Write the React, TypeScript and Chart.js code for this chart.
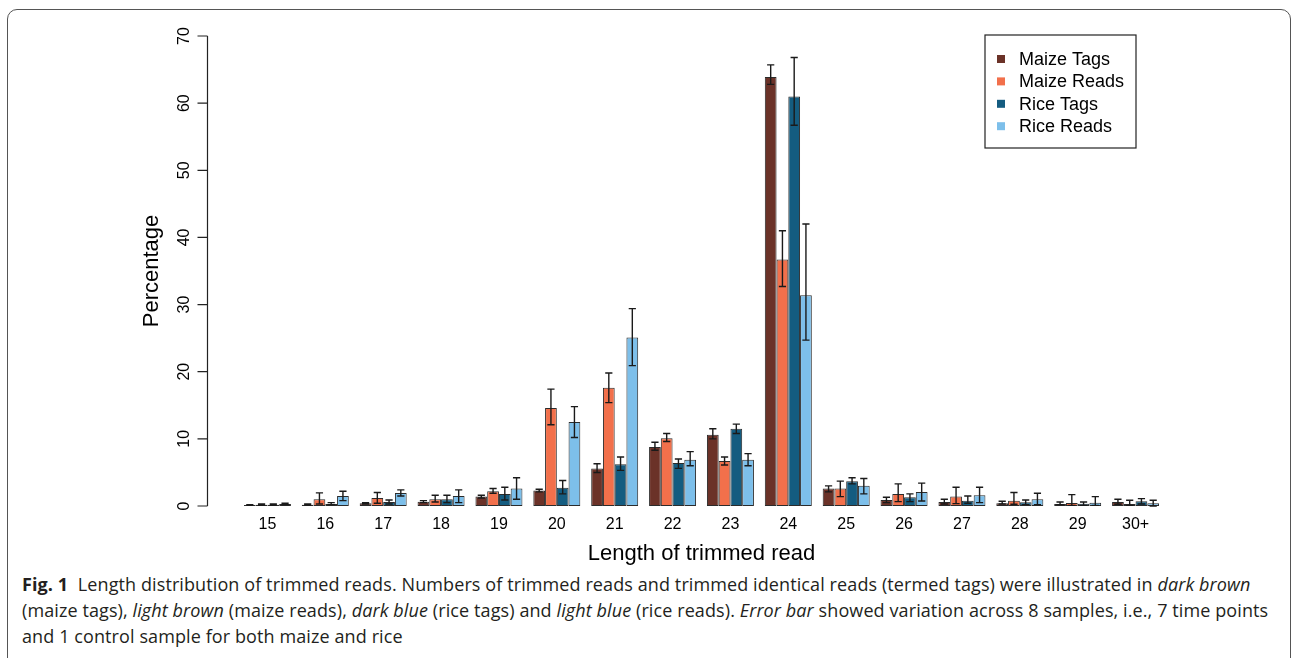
import React, { useEffect, useRef } from "react";
import { Chart, registerables } from "chart.js";

Chart.register(...registerables);

// ---------- data ----------
const lengths = ["15", "16", "17", "18", "19", "20", "21", "22", "23", "24", "25", "26", "27", "28", "29", "30+"];

const maizeTags = [0.15, 0.2, 0.4, 0.65, 1.4, 2.3, 5.6, 8.8, 10.6, 63.9, 2.6, 0.9, 0.6, 0.4, 0.3, 0.6];
const maizeTagsLow = [0.1, 0.15, 0.3, 0.5, 1.2, 2.1, 5.0, 8.3, 10.0, 62.8, 2.1, 0.5, 0.3, 0.3, 0.2, 0.25];
const maizeTagsHigh = [0.2, 0.3, 0.5, 0.8, 1.6, 2.5, 6.3, 9.5, 11.5, 65.7, 3.0, 1.3, 1.0, 0.7, 0.6, 1.0];

const maizeReads = [0.2, 1.0, 1.2, 1.0, 2.2, 14.6, 17.6, 10.1, 6.7, 36.7, 2.6, 1.8, 1.4, 0.8, 0.45, 0.3];
const maizeReadsLow = [0.1, 0.3, 0.4, 0.6, 1.9, 12.1, 15.4, 9.6, 6.1, 32.7, 1.4, 0.65, 0.35, 0.25, 0.1, 0.1];
const maizeReadsHigh = [0.3, 1.95, 2.0, 1.6, 2.6, 17.4, 19.8, 10.8, 7.3, 41.0, 3.7, 3.3, 2.8, 2.0, 1.7, 0.85];

const riceTags = [0.2, 0.3, 0.6, 1.0, 1.8, 2.7, 6.2, 6.4, 11.5, 61.0, 3.7, 1.3, 0.8, 0.55, 0.35, 0.7];
const riceTagsLow = [0.1, 0.2, 0.3, 0.5, 0.9, 1.8, 5.3, 5.6, 10.8, 56.7, 3.3, 0.65, 0.4, 0.2, 0.1, 0.3];
const riceTagsHigh = [0.3, 0.5, 0.9, 1.6, 2.8, 3.8, 7.3, 7.0, 12.2, 66.8, 4.2, 1.8, 1.5, 0.9, 0.6, 1.1];

const riceReads = [0.3, 1.5, 1.95, 1.5, 2.6, 12.5, 25.1, 6.9, 6.9, 31.4, 3.0, 2.1, 1.6, 1.0, 0.5, 0.4];
const riceReadsLow = [0.2, 0.8, 1.5, 0.5, 1.0, 10.2, 20.9, 6.0, 6.0, 24.7, 1.8, 0.75, 0.5, 0.2, 0.1, 0.0];
const riceReadsHigh = [0.4, 2.2, 2.4, 2.4, 4.2, 14.8, 29.4, 8.1, 7.8, 42.0, 4.1, 3.4, 2.8, 1.9, 1.4, 0.85];

const yTicks = [0, 10, 20, 30, 40, 50, 60, 70];

const seriesNames = ["Maize Tags", "Maize Reads", "Rice Tags", "Rice Reads"];
const seriesColors = ["#6b3228", "#f2704b", "#145c80", "#7dbfea"];

const FONT = "'Liberation Sans', Arial, Helvetica, sans-serif";

// ---------- plugins ----------
const errorBarPlugin = {
  id: "errorBars",
  afterDatasetsDraw(chart: any) {
    const ctx = chart.ctx;
    const y = chart.scales.y;
    ctx.save();
    ctx.strokeStyle = "#1a1a1a";
    ctx.lineWidth = 1.4;
    chart.data.datasets.forEach((ds: any, i: number) => {
      const meta = chart.getDatasetMeta(i);
      meta.data.forEach((bar: any, j: number) => {
        const x = bar.x;
        const yl = y.getPixelForValue(ds.errLow[j]);
        const yh = y.getPixelForValue(ds.errHigh[j]);
        const cap = 3.6;
        ctx.beginPath();
        ctx.moveTo(x, yl);
        ctx.lineTo(x, yh);
        ctx.moveTo(x - cap, yl);
        ctx.lineTo(x + cap, yl);
        ctx.moveTo(x - cap, yh);
        ctx.lineTo(x + cap, yh);
        ctx.stroke();
      });
    });
    ctx.restore();
  },
};

const axisPlugin = {
  id: "rAxis",
  afterDraw(chart: any) {
    const ctx = chart.ctx;
    const y = chart.scales.y;
    const area = chart.chartArea;
    const axisX = area.left - 31;
    ctx.save();
    ctx.strokeStyle = "#222";
    ctx.lineWidth = 1.2;
    ctx.beginPath();
    ctx.moveTo(axisX, y.getPixelForValue(yTicks[0]));
    ctx.lineTo(axisX, y.getPixelForValue(yTicks[yTicks.length - 1]));
    yTicks.forEach((t) => {
      const py = y.getPixelForValue(t);
      ctx.moveTo(axisX, py);
      ctx.lineTo(axisX - 10, py);
    });
    ctx.stroke();
    ctx.fillStyle = "#000";
    ctx.font = `16px ${FONT}`;
    ctx.textAlign = "center";
    ctx.textBaseline = "alphabetic";
    yTicks.forEach((t) => {
      const py = y.getPixelForValue(t);
      ctx.save();
      ctx.translate(axisX - 18.5, py);
      ctx.rotate(-Math.PI / 2);
      ctx.fillText(String(t), 0, 0);
      ctx.restore();
    });
    ctx.font = `22px ${FONT}`;
    ctx.save();
    ctx.translate(axisX - 50, (area.top + area.bottom) / 2);
    ctx.rotate(-Math.PI / 2);
    ctx.fillText("Percentage", 0, 0);
    ctx.restore();
    ctx.restore();
  },
};

const legendPlugin = {
  id: "boxLegend",
  afterDraw(chart: any) {
    const ctx = chart.ctx;
    const area = chart.chartArea;
    const bx = area.right - 179.5;
    const by = area.top - 1;
    const bw = 151;
    const bh = 113;
    ctx.save();
    ctx.strokeStyle = "#222";
    ctx.lineWidth = 1.2;
    ctx.strokeRect(bx, by, bw, bh);
    ctx.font = `18px ${FONT}`;
    ctx.textBaseline = "middle";
    ctx.textAlign = "left";
    chart.data.datasets.forEach((ds: any, i: number) => {
      const cy = by + 24 + i * 22.4;
      ctx.fillStyle = ds.backgroundColor;
      ctx.fillRect(bx + 12, cy - 4, 8, 8);
      ctx.fillStyle = "#000";
      ctx.fillText(ds.label, bx + 34, cy + 1);
    });
    ctx.restore();
  },
};

// ---------- component ----------
export default function App() {
  const canvasRef = useRef<HTMLCanvasElement | null>(null);

  useEffect(() => {
    if (!canvasRef.current) return;
    const values = [maizeTags, maizeReads, riceTags, riceReads];
    const lows = [maizeTagsLow, maizeReadsLow, riceTagsLow, riceReadsLow];
    const highs = [maizeTagsHigh, maizeReadsHigh, riceTagsHigh, riceReadsHigh];
    const chart = new Chart(canvasRef.current, {
      type: "bar",
      data: {
        labels: lengths,
        datasets: values.map((v, i) => ({
          label: seriesNames[i],
          data: v,
          errLow: lows[i],
          errHigh: highs[i],
          backgroundColor: seriesColors[i],
          borderColor: "#2b2b2b",
          borderWidth: 1,
          borderSkipped: false,
          barPercentage: 1,
          categoryPercentage: 0.812,
        })) as any,
      },
      options: {
        animation: false,
        responsive: false,
        devicePixelRatio: 1,
        layout: { padding: { left: 238.5, right: 127.5, top: 36, bottom: 2.4 } },
        plugins: {
          legend: { display: false },
          tooltip: { enabled: false },
          title: { display: false },
        },
        scales: {
          x: {
            grid: { display: false, drawTicks: false },
            border: { display: false },
            ticks: { font: { size: 16, family: FONT }, color: "#000", padding: 9, maxRotation: 0 },
            title: {
              display: true,
              text: "Length of trimmed read",
              font: { size: 22, family: FONT },
              color: "#000",
              padding: { top: -2, bottom: 0 },
            },
          },
          y: { display: false, min: 0, max: 70 },
        },
      },
      plugins: [errorBarPlugin, axisPlugin, legendPlugin],
    });
    return () => chart.destroy();
  }, []);

  return (
    <div>
      <div
        style={{
          position: "absolute",
          left: 7,
          top: 9,
          width: 1284,
          height: 720,
          boxSizing: "border-box",
          border: "1.5px solid #555",
          borderRadius: 10,
        }}
      />
      <canvas
        ref={canvasRef}
        width={1292}
        height={570}
        style={{ position: "absolute", left: 0, top: 0, width: 1292, height: 570, display: "block" }}
      />
      <div
        style={{
          position: "absolute",
          left: 22,
          top: 571,
          fontFamily: "'Open Sans', 'Noto Sans', sans-serif",
          fontSize: 18,
          lineHeight: "26px",
          color: "#231f20",
          whiteSpace: "nowrap",
          letterSpacing: "0.1px",
        }}
      >
        <div>
          <b>Fig. 1</b>&nbsp;&nbsp;Length distribution of trimmed reads. Numbers of trimmed reads and trimmed identical reads
          (termed tags) were illustrated in <i>dark brown</i>
        </div>
        <div>
          (maize tags), <i>light brown</i> (maize reads), <i>dark blue</i> (rice tags) and <i>light blue</i> (rice reads).{" "}
          <i>Error bar</i> showed variation across 8 samples, i.e., 7 time points
        </div>
        <div>and 1 control sample for both maize and rice</div>
      </div>
    </div>
  );
}
